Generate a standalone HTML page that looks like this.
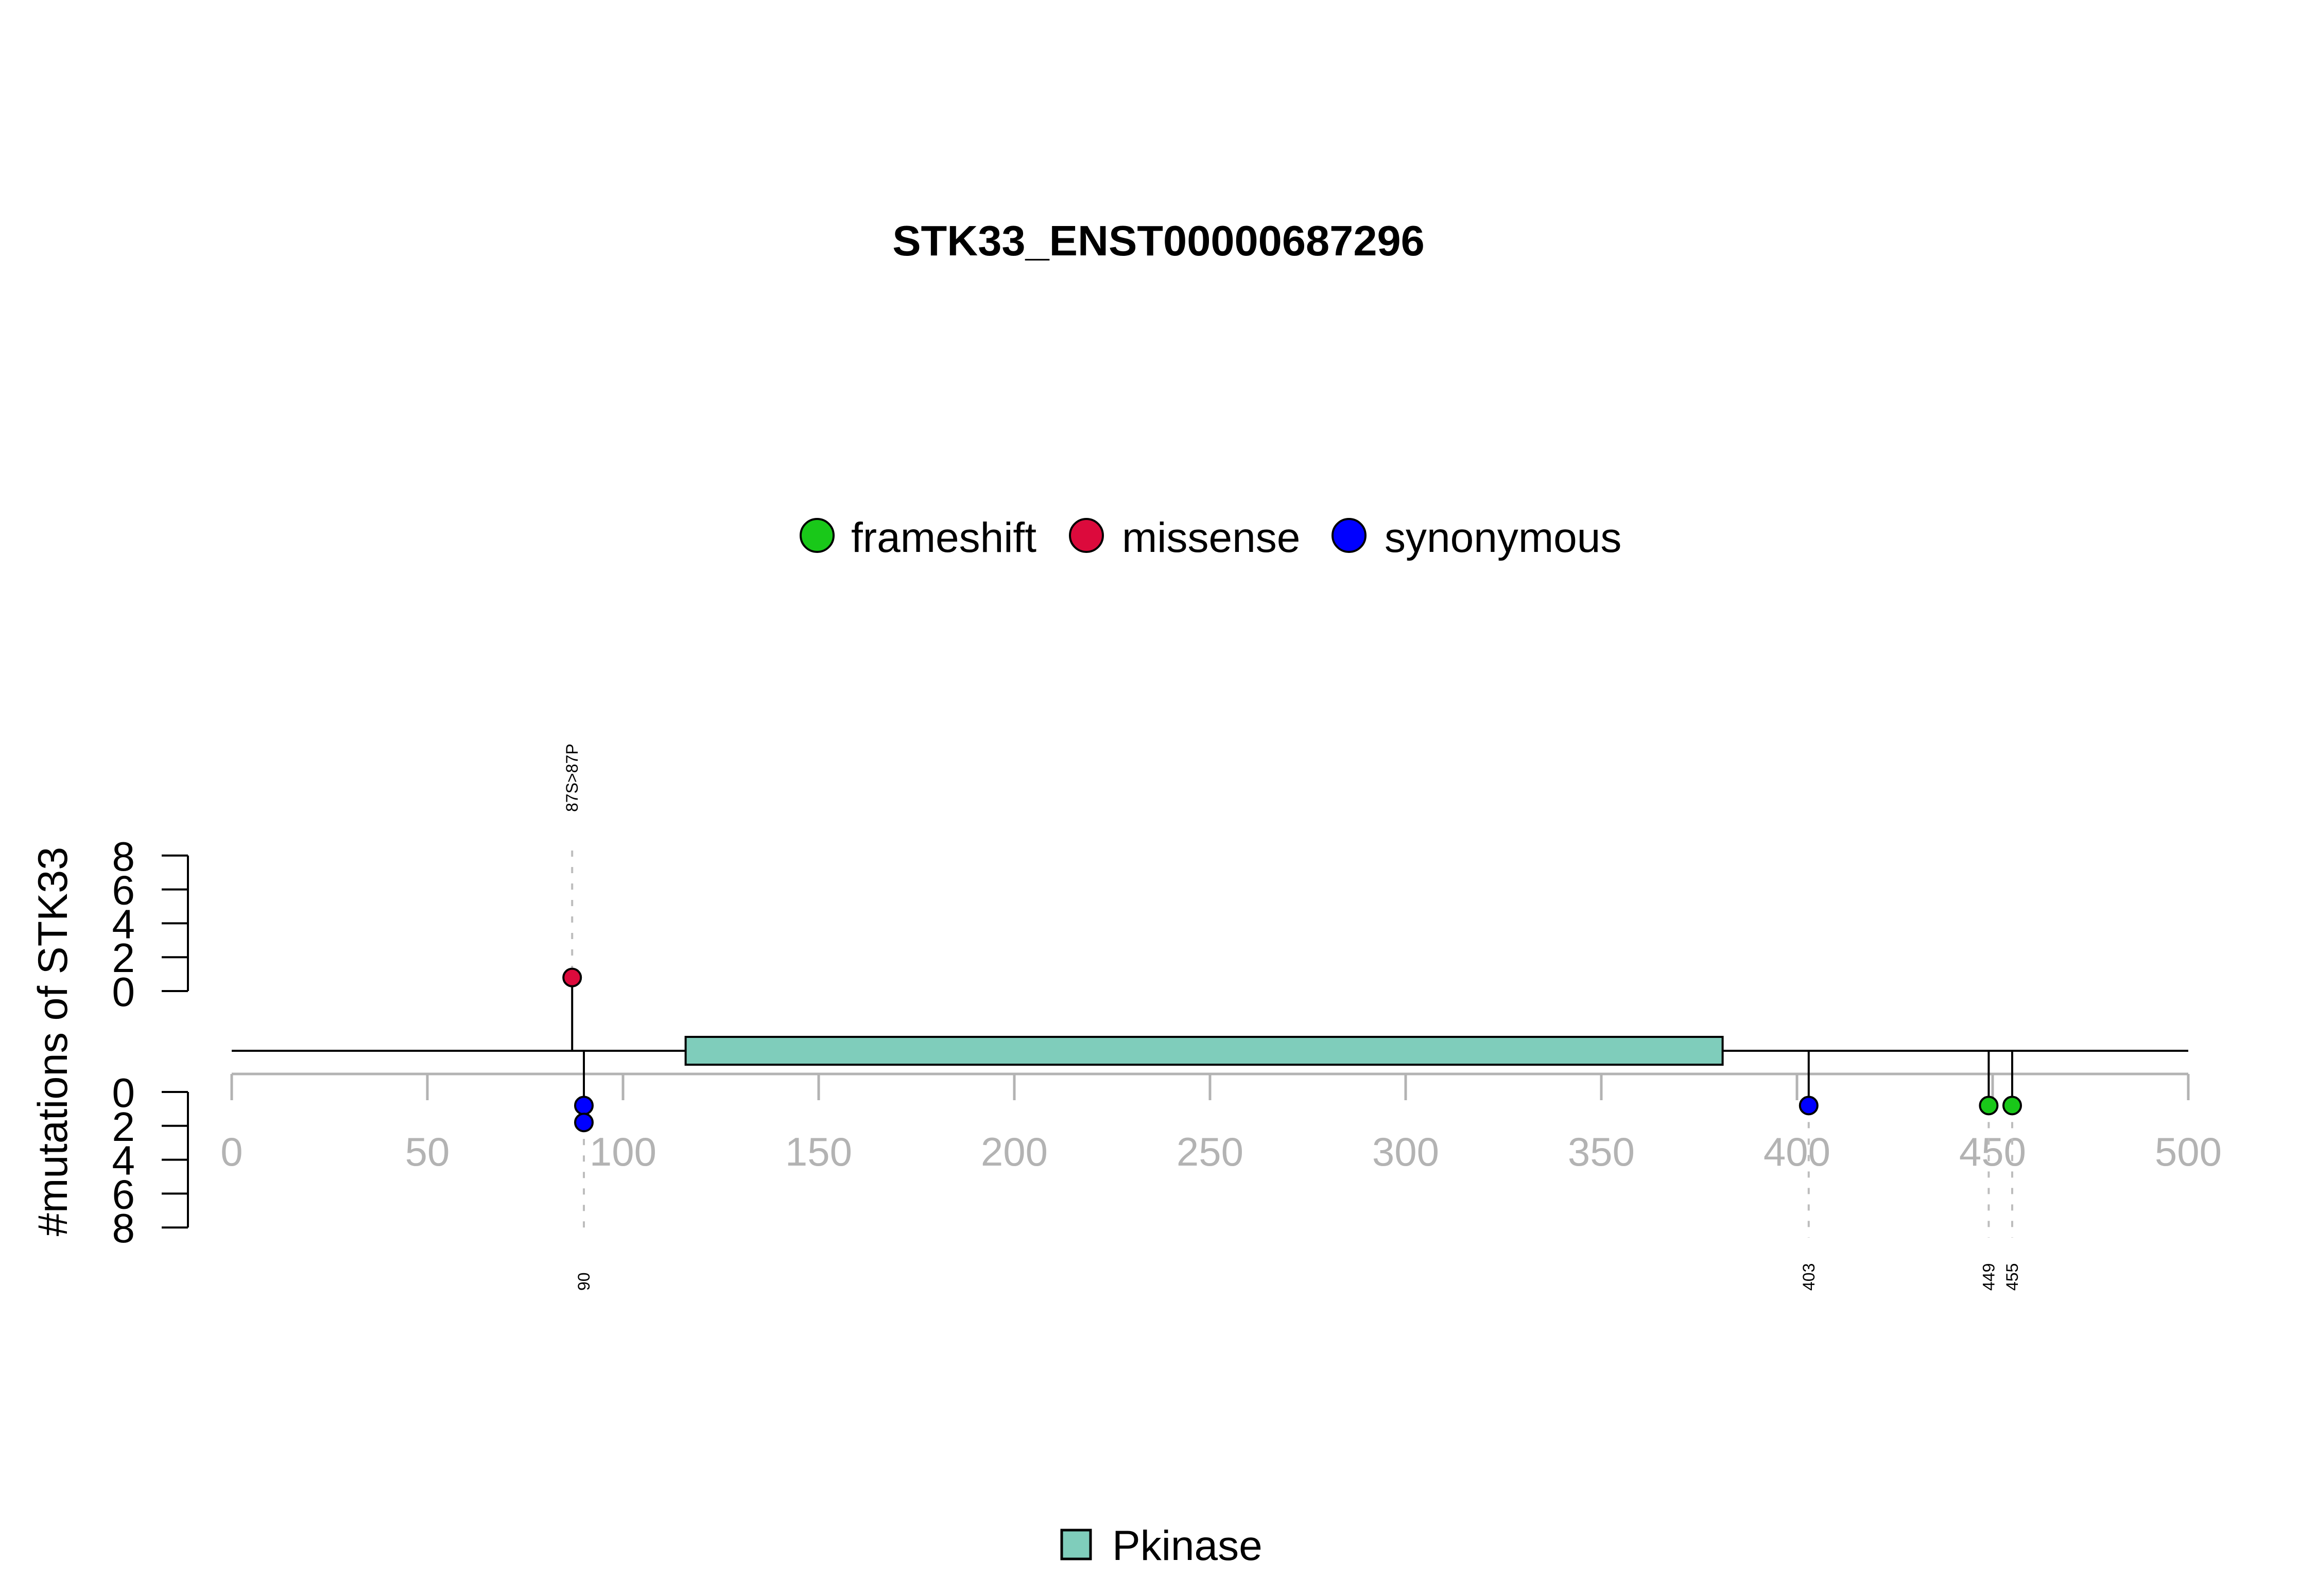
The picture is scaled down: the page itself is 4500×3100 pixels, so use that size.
<!DOCTYPE html>
<html><head><meta charset="utf-8"><style>html,body{margin:0;padding:0;background:#fff}svg{display:block}</style></head>
<body>
<svg id="chart" width="4500" height="3100" viewBox="0 0 4500 3100" xmlns="http://www.w3.org/2000/svg" font-family="'Liberation Sans', Arial, sans-serif">
<rect width="4500" height="3100" fill="#fff"/>
<text x="2250" y="496" text-anchor="middle" font-size="83" font-weight="bold">STK33_ENST00000687296</text>
<g>
<circle cx="1587" cy="1040" r="32" fill="#19C819" stroke="#000" stroke-width="4"/>
<text x="1653" y="1072" font-size="82">frameshift</text>
<circle cx="2110" cy="1040" r="32" fill="#DC0A3C" stroke="#000" stroke-width="4"/>
<text x="2179" y="1072" font-size="82">missense</text>
<circle cx="2620" cy="1040" r="32" fill="#0000FF" stroke="#000" stroke-width="4"/>
<text x="2689" y="1072" font-size="82">synonymous</text>
</g>
<text transform="translate(130,2023) rotate(-90)" text-anchor="middle" font-size="81">#mutations of STK33</text>
<g id="plot"></g>
<g>
<rect x="2062" y="2972" width="56" height="56" fill="#7FCDBB" stroke="#000" stroke-width="5"/>
<text x="2160" y="3030" font-size="82">Pkinase</text>
</g>
</svg>
<script>
const xTicks = [0,50,100,150,200,250,300,350,400,450,500];
const yTicks = [0,2,4,6,8];
const mutPos = [87, 90, 403, 449, 455];
const mutCount = [1, 2, 1, 1, 1];
const mutSide = ["up","down","down","down","down"];
const mutType = ["missense","synonymous","synonymous","frameshift","frameshift"];
const mutLabel = ["87S>87P","90","403","449","455"];
const domainStart = [116];
const domainEnd = [381];
const domainName = ["Pkinase"];
const colors = {frameshift:"#19C819", missense:"#DC0A3C", synonymous:"#0000FF"};

const NS = "http://www.w3.org/2000/svg";
const g = document.getElementById("plot");
const X0 = 450, X1 = 4250, AMAX = 500;
const sx = v => X0 + (X1 - X0) * v / AMAX;
const UP0 = 1925, DN0 = 2121, UNIT = 32.9;
const BB = 2041, AX = 2086;
function mk(tag, attrs){const e=document.createElementNS(NS,tag);for(const k in attrs)e.setAttribute(k,attrs[k]);g.appendChild(e);return e;}

let e = mk("line",{x1:sx(0),x2:sx(AMAX),y1:AX,y2:AX,stroke:"#b3b3b3","stroke-width":5});


xTicks.forEach(t=>{
  let l = mk("line",{x1:sx(t),x2:sx(t),y1:AX,y2:2137,stroke:"#b3b3b3","stroke-width":5});
  
  
  let tx = mk("text",{x:sx(t),y:2264,"text-anchor":"middle","font-size":78,fill:"#b3b3b3"});
  tx.textContent = t;
  
  
});
[["up",UP0,-1],["down",DN0,1]].forEach(([nm,z,dir])=>{
  let l = mk("line",{x1:365,x2:365,y1:z,y2:z+dir*8*UNIT,stroke:"#000","stroke-width":4});
  
  
  yTicks.forEach(t=>{
    let y = z+dir*t*UNIT;
    let tk = mk("line",{x1:314,x2:365,y1:y,y2:y,stroke:"#000","stroke-width":4});
    
    
    let tx = mk("text",{x:262,y:y+29,"text-anchor":"end","font-size":80});
    tx.textContent = t;
    
    
  });
});
e = mk("line",{x1:sx(0),x2:sx(AMAX),y1:BB,y2:BB,stroke:"#000","stroke-width":4});


domainStart.forEach((s,i)=>{
  let r = mk("rect",{x:sx(s),y:2014,width:sx(domainEnd[i])-sx(s),height:54,fill:"#7FCDBB",stroke:"#000","stroke-width":4});
  
  
});
mutPos.forEach((p,i)=>{
  const x = sx(p), up = mutSide[i]==="up", dir = up?-1:1, z = up?UP0:DN0;
  const n = mutCount[i];
  const last = z + dir*(n-0.2)*UNIT;
  let d = mk("line",{x1:x,x2:x,y1:up?1652:last,y2:up?last:2404,stroke:"#bdbdbd","stroke-width":4,"stroke-dasharray":"12 20"});
  
  
  let s = mk("line",{x1:x,x2:x,y1:BB,y2:z+dir*0.8*UNIT,stroke:"#000","stroke-width":4});
  
  
  for(let k=0;k<n;k++){
    let c = mk("circle",{cx:x,cy:z+dir*(k+0.8)*UNIT,r:17,fill:colors[mutType[i]],stroke:"#000","stroke-width":4});
    
    
  }
  let ly = up?1577:2507;
  let t = mk("text",{transform:`translate(${x+11},${ly}) rotate(-90)`,"font-size":32});
  t.textContent = mutLabel[i];
  
  
});
</script>
</body></html>
